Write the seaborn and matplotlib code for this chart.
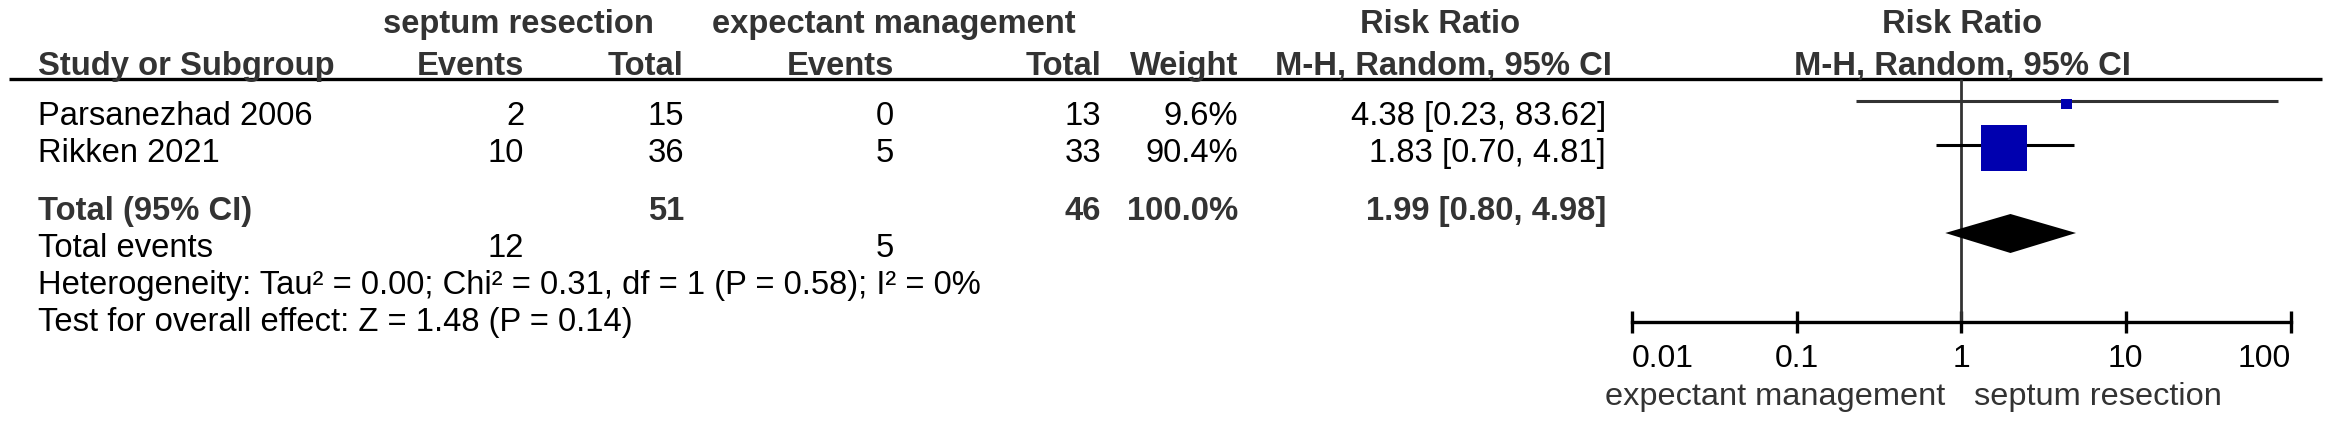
import matplotlib
matplotlib.use("Agg")
import matplotlib.pyplot as plt
from matplotlib.ticker import NullLocator
import seaborn as sns
import pandas as pd

# ---------------- data ----------------
studies = ["Parsanezhad 2006", "Rikken 2021"]
sr_events = [2, 10]
sr_total = [15, 36]
em_events = [0, 5]
em_total = [13, 33]
weights = [9.6, 90.4]
rr = [4.38, 1.83]
ci_lo = [0.23, 0.70]
ci_hi = [83.62, 4.81]

pooled_rr = 1.99
pooled_lo = 0.80
pooled_hi = 4.98
total_sr = 51
total_em = 46
total_weight = 100.0
total_events_sr = 12
total_events_em = 5

heterogeneity = "Heterogeneity: Tau\u00b2 = 0.00; Chi\u00b2 = 0.31, df = 1 (P = 0.58); I\u00b2 = 0%"
overall = "Test for overall effect: Z = 1.48 (P = 0.14)"

group1 = "septum resection"
group2 = "expectant management"
xticks = [0.01, 0.1, 1, 10, 100]
xtick_labels = ["0.01", "0.1", "1", "10", "100"]

# ---------------- style ----------------
sns.set_theme(style="white")
plt.rcParams["font.family"] = ["Liberation Sans", "DejaVu Sans"]
FS = 23.6
FS_TICK = 23
FS_SIDE = 23.4
DARK = "#333333"

W, H = 2331, 423
fig = plt.figure(figsize=(W / 100, H / 100), dpi=100)
fig.patch.set_facecolor("white")

tab = fig.add_axes([0, 0, 1, 1])
tab.set_xlim(0, W)
tab.set_ylim(H, 0)
tab.axis("off")

# layout (pixel rows, baselines)
Y_H1, Y_H2 = 33, 75
Y_ROWS = [125, 162]
Y_TOTAL, Y_EVENTS, Y_HET, Y_TEST = 220, 257, 294, 331
X_LEFT = 38
X_EV1, X_TOT1, X_EV2, X_TOT2, X_W, X_RR = 524, 684, 894, 1101, 1238, 1606
X_PLOT_C = 1962


def t(x, y, s, ha="left", bold=False, color="black"):
    tab.text(x, y, s, ha=ha, va="baseline", fontsize=FS,
             fontweight="bold" if bold else "normal", color=color)


# headers
t(518, Y_H1, group1, ha="center", bold=True, color=DARK)
t(894, Y_H1, group2, ha="center", bold=True, color=DARK)
t(1440, Y_H1, "Risk Ratio", ha="center", bold=True, color=DARK)
t(X_PLOT_C, Y_H1, "Risk Ratio", ha="center", bold=True, color=DARK)

t(X_LEFT, Y_H2, "Study or Subgroup", bold=True, color=DARK)
t(X_EV1, Y_H2, "Events", ha="right", bold=True, color=DARK)
t(X_TOT1, Y_H2, "Total", ha="right", bold=True, color=DARK)
t(X_EV2, Y_H2, "Events", ha="right", bold=True, color=DARK)
t(X_TOT2, Y_H2, "Total", ha="right", bold=True, color=DARK)
t(X_W, Y_H2, "Weight", ha="right", bold=True, color=DARK)
t(1612, Y_H2, "M-H, Random, 95% CI", ha="right", bold=True, color=DARK)
t(X_PLOT_C, Y_H2, "M-H, Random, 95% CI", ha="center", bold=True, color=DARK)

tab.hlines(79, 9, 2322, color="black", lw=2.4)

# study rows
for i, name in enumerate(studies):
    y = Y_ROWS[i]
    t(X_LEFT, y, name)
    t(X_EV1, y, str(sr_events[i]), ha="right")
    t(X_TOT1, y, str(sr_total[i]), ha="right")
    t(X_EV2, y, str(em_events[i]), ha="right")
    t(X_TOT2, y, str(em_total[i]), ha="right")
    t(X_W, y, f"{weights[i]:.1f}%", ha="right")
    t(X_RR, y, f"{rr[i]:.2f} [{ci_lo[i]:.2f}, {ci_hi[i]:.2f}]", ha="right")

# total rows
t(X_LEFT, Y_TOTAL, "Total (95% CI)", bold=True, color=DARK)
t(X_TOT1, Y_TOTAL, str(total_sr), ha="right", bold=True, color=DARK)
t(X_TOT2, Y_TOTAL, str(total_em), ha="right", bold=True, color=DARK)
t(X_W, Y_TOTAL, f"{total_weight:.1f}%", ha="right", bold=True, color=DARK)
t(X_RR, Y_TOTAL, f"{pooled_rr:.2f} [{pooled_lo:.2f}, {pooled_hi:.2f}]", ha="right", bold=True, color=DARK)

t(X_LEFT, Y_EVENTS, "Total events")
t(X_EV1, Y_EVENTS, str(total_events_sr), ha="right")
t(X_EV2, Y_EVENTS, str(total_events_em), ha="right")
t(X_LEFT, Y_HET, heterogeneity)
t(X_LEFT, Y_TEST, overall)

# ---------------- forest plot ----------------
x0, x1 = 1632, 2290.5
ax = fig.add_axes([x0 / W, 0, (x1 - x0) / W, 1])
ax.patch.set_alpha(0)
ax.set_xscale("log")
ax.set_xlim(0.01, 100)
ax.set_ylim(H, 0)

LINE_Y = [101, 145]
SQ_Y = [104, 148]
AXIS_Y = 322

ax.vlines(1, 79, AXIS_Y, color=DARK, lw=2.0, zorder=1)
ax.hlines(LINE_Y, ci_lo, ci_hi, colors=[DARK, "black"], lw=2.2, zorder=2)

df = pd.DataFrame({"rr": rr, "y": SQ_Y, "weight": weights})
sns.scatterplot(data=df, x="rr", y="y", size="weight", sizes=(60, 1096),
                marker="s", color="#0000AF", linewidth=0, legend=False,
                ax=ax, zorder=3)

ax.fill([pooled_lo, pooled_rr, pooled_hi, pooled_rr], [233, 214, 233, 253],
        color="black", lw=0, zorder=3)

for s in ["top", "left", "right"]:
    ax.spines[s].set_visible(False)
ax.spines["bottom"].set_position(("data", AXIS_Y))
ax.spines["bottom"].set_color("black")
ax.spines["bottom"].set_linewidth(2.4)
ax.set_yticks([])
ax.set_xticks(xticks)
ax.set_xticklabels(xtick_labels)
ax.xaxis.set_minor_locator(NullLocator())
ax.tick_params(axis="x", direction="inout", length=16, width=2.4, color="black",
               labelsize=FS_TICK, labelcolor="black", pad=8, bottom=True)
labs = ax.get_xticklabels()
labs[0].set_ha("left")
labs[-1].set_ha("right")
ax.set_xlabel("")
ax.set_ylabel("")

ax.text(0.8, 405, group2, ha="right", va="baseline", fontsize=FS_SIDE, color=DARK)
ax.text(1.2, 405, group1, ha="left", va="baseline", fontsize=FS_SIDE, color=DARK)

fig.savefig("out.png", dpi=100, facecolor="white")
